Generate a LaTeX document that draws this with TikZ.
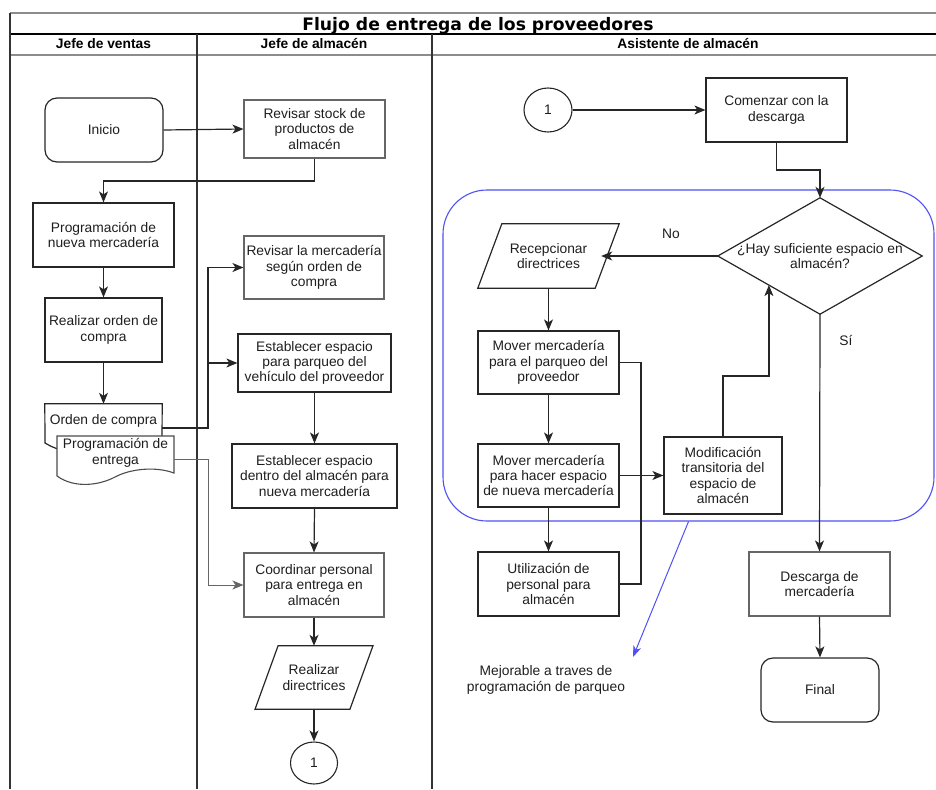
\documentclass[tikz,border=0pt]{standalone}
\usepackage{fontspec}
\setmainfont{Liberation Sans}
\newfontfamily\titlefont{DejaVu Sans}
\usetikzlibrary{arrows.meta,shapes.geometric,calc}
\definecolor{grpblue}{RGB}{80,80,245}
\definecolor{ink}{RGB}{30,30,30}

\begin{document}
\begin{tikzpicture}[x=1pt,y=-1pt,
  every node/.style={font=\fontsize{13.8}{15.4}\selectfont, text=ink, inner sep=0pt, align=center},
  sz/.style 2 args={minimum width=#1pt, minimum height=#2pt},
  box/.style={draw=black!85, line width=1.2pt, rectangle},
  boxg/.style={draw=black!60, line width=1.1pt, rectangle},
  term/.style={box, rounded corners=12pt},
  conn/.style={draw=black!85, line width=1.1pt, ellipse},
  shapeline/.style={draw=black!85, line width=1.2pt, line join=miter},
  hdr/.style={font=\fontsize{13.8}{15}\selectfont\bfseries, text=black},
  lane/.style={draw=black!80, line width=1.2pt},
  arr/.style={draw=black!85, line width=1.2pt, -{Stealth[length=11pt,width=9pt,inset=3pt]}},
  link/.style={draw=black!85, line width=1.2pt},
  bluearr/.style={draw=grpblue, line width=1pt, -{Stealth[length=11pt,width=8pt,inset=3pt]}}
]
\useasboundingbox (0,0) rectangle (936,789);

% ---- swimlane frame ----
\draw[draw=black!45, line width=1.2pt] (10,13) -- (936,13);
\draw[draw=black, line width=1.5pt] (10,34) -- (936,34);
\draw[draw=black!45, line width=1.1pt] (10,55) -- (936,55);
\draw[lane] (10,13) -- (10,789);
\draw[lane] (197,34) -- (197,789);
\draw[lane] (432,34) -- (432,789);

\node[anchor=base, font=\titlefont\fontsize{17.2}{18}\selectfont\bfseries, text=black] (title) at (478,31) {Flujo de entrega de los proveedores};
\node[hdr] (h1) at (103.5,44) {Jefe de ventas};
\node[hdr] (h2) at (314,44) {Jefe de almacén};
\node[hdr] (h3) at (688,44) {Asistente de almacén};

% ---- Jefe de ventas ----
\node[term, sz={118}{64}] (ini) at (104,130) {Inicio};
\node[box, sz={141}{64}] (prog) at (103.5,235) {Programación de\\nueva mercadería};
\node[box, sz={117}{64}] (ro) at (103.5,330) {Realizar orden de\\compra};

% stacked documents
\node[sz={117}{34}] (oc) at (103.5,421) {};
\draw[shapeline, fill=white] (oc.north west) -- (oc.north east) -- (162,445)
  .. controls (140,438) and (110,440) .. (95,446)
  .. controls (75,455) and (58,451) .. (45,443) -- cycle;
\node at (oc.center) {Orden de compra};
\node[sz={117}{34}] (pe) at (115.5,453) {};
\draw[draw=black!70, line width=1.1pt, fill=white] (57,436) -- (174,436) -- (174,473)
  .. controls (155,466) and (130,469) .. (115,477)
  .. controls (100,485) and (75,489) .. (57,476) -- cycle;
\node at (pe.center) {Programación de\\entrega};

% ---- Jefe de almacén ----
\node[boxg, sz={141}{58}] (rs) at (314.5,129) {Revisar stock de\\productos de\\almacén};
\node[boxg, sz={140}{63}] (rm) at (314,267.5) {Revisar la mercadería\\según orden de\\compra};
\node[box, sz={153}{58}] (ep) at (314.5,363) {Establecer espacio\\para parqueo del\\vehículo del proveedor};
\node[box, sz={165}{64}] (ed) at (314.5,476) {Establecer espacio\\dentro del almacén para\\nueva mercadería};
\node[boxg, sz={140}{64}] (cp) at (314,585) {Coordinar personal\\para entrega en\\almacén};
\node[sz={94.5}{63}] (rd) at (314,677.5) {Realizar\\directrices};
\draw[shapeline] ([xshift=11.5pt]rd.north west) -- ([xshift=11.5pt]rd.north east)
  -- ([xshift=-11.5pt]rd.south east) -- ([xshift=-11.5pt]rd.south west) -- cycle;
\node[conn, sz={47}{42}] (c1a) at (314,763) {1};

% ---- Asistente de almacén ----
\node[draw=grpblue, line width=1.1pt, rounded corners=44pt, sz={491}{331}] (grp) at (688.5,355.5) {};
\node[conn, sz={48}{44}] (c1b) at (548,110) {1};
\node[box, sz={141}{64}] (cd) at (776.5,110) {Comenzar con la\\descarga};
\node[sz={204}{116}] (dia) at (820,256) {};
\draw[shapeline] (dia.north) -- (dia.east) -- (dia.south) -- (dia.west) -- cycle;
\node at (dia.center) {¿Hay suficiente espacio en\\almacén?};
\coordinate (diaSW) at ($(dia.west)!0.5!(dia.south)$);
\node[sz={117}{64}] (rdir) at (548.5,256) {Recepcionar\\directrices};
\draw[shapeline] ([xshift=12pt]rdir.north west) -- ([xshift=12pt]rdir.north east)
  -- ([xshift=-12pt]rdir.south east) -- ([xshift=-12pt]rdir.south west) -- cycle;
\node[box, sz={141}{63}] (mp) at (548.5,362.5) {Mover mercadería\\para el parqueo del\\proveedor};
\node[box, sz={141}{63}] (me) at (548.5,475.5) {Mover mercadería\\para hacer espacio\\de nueva mercadería};
\node[box, sz={118}{77}] (mod) at (723,475.5) {Modificación\\transitoria del\\espacio de\\almacén};
\node[box, sz={141}{64}] (ut) at (548.5,584) {Utilización de\\personal para\\almacén};
\node[boxg, sz={141}{64}] (dm) at (819.5,584) {Descarga de\\mercadería};
\node[term, sz={118}{64}] (fin) at (820,690) {Final};

\node (no) at (671,234) {No};
\node (si) at (846,340) {Sí};
\coordinate (tip) at (633,657);
\node (note) at (546,680) {Mejorable a traves de\\programación de parqueo};

% ---- connectors ----
\draw[arr] (ini.east) -- (rs.west);
\draw[arr] (rs.south) -- (rs.south |- 0,181) -| (prog.north);
\draw[arr] (prog.south) -- (ro.north);
\draw[arr] (ro.south) -- (oc.north);
\coordinate (split) at (208,363);
\draw[arr] ([yshift=-7pt]oc.east) -- (split |- 0,428) |- (rm.west);
\draw[arr] (split) -- (ep.west);
\draw[arr, draw=black!60, line width=1pt] ([yshift=-6pt]pe.east) -- (split |- 0,459) |- (cp.west);
\draw[arr] (ep.south) -- (ed.north);
\draw[arr] (ed.south) -- (cp.north);
\draw[arr] (cp.south) -- (rd.north);
\draw[arr] (rd.south) -- (c1a.north);

\draw[arr] (c1b.east) -- (cd.west);
\draw[arr] (cd.south) -- (cd.south |- 0,170) -| (dia.north);
\draw[arr] (dia.west) -- ([xshift=-6pt]rdir.east);
\draw[arr] (rdir.south) -- (mp.north);
\draw[arr] (mp.south) -- (me.north);
\draw[arr] (me.east) -- (mod.west);
\draw[arr] (me.south) -- (ut.north);
\draw[arr] (mod.north) -- (mod.north |- 0,376) -| (diaSW);
\draw[link] (mp.east) -- (641,362.5) |- (ut.east);
\draw[arr] (dia.south) -- (dm.north);
\draw[arr] (dm.south) -- (fin.north);
\draw[bluearr] (grp.south) -- (tip);
\end{tikzpicture}
\end{document}
